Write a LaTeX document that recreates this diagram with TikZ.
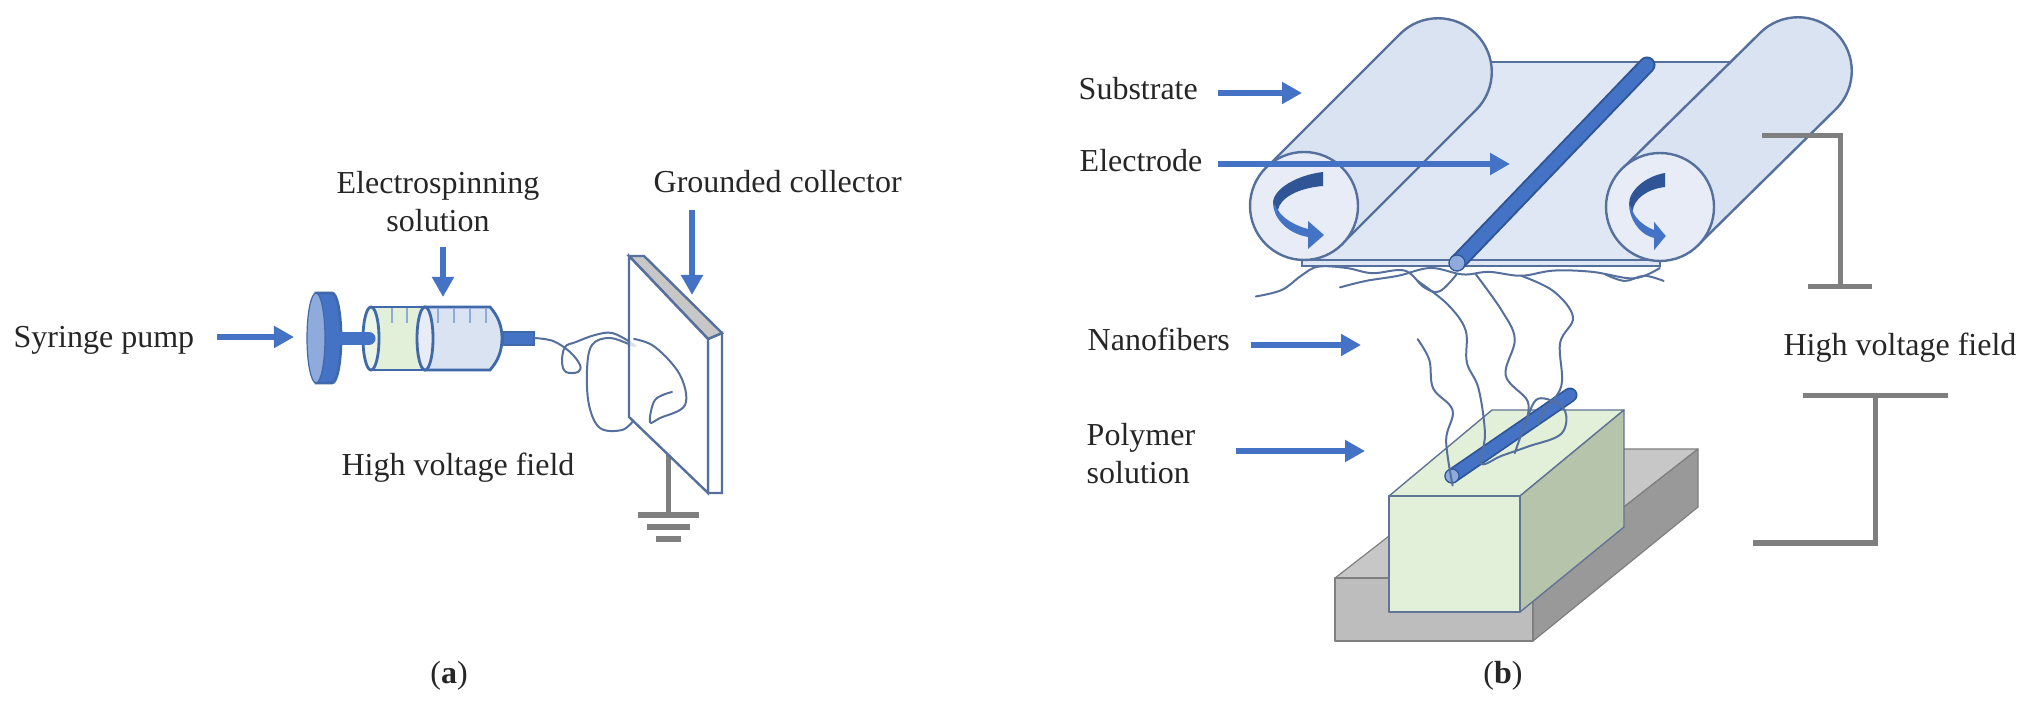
\documentclass[tikz,border=0pt]{standalone}
\usepackage{fontspec}
\setmainfont{Liberation Serif}
\usetikzlibrary{arrows.meta}
\definecolor{callblue}{HTML}{4472C4}
\definecolor{darkblue}{HTML}{2F5597}
\definecolor{edgeblue}{HTML}{3F69A8}
\definecolor{slateline}{HTML}{55709C}
\definecolor{cylfill}{HTML}{D9E3F2}
\definecolor{capfill}{HTML}{E7ECF7}
\definecolor{sheetfill}{HTML}{DFE7F4}
\definecolor{midblue}{HTML}{8FAADC}
\definecolor{greenfill}{HTML}{E2EFD9}
\definecolor{paleGreen}{HTML}{EDF4E8}
\definecolor{greenside}{HTML}{B7C4AC}
\definecolor{wiregrey}{HTML}{7F7F7F}
\tikzset{
 label text/.style={font=\fontsize{9.1}{12.6}\selectfont,text=black!85,inner sep=0pt,align=center},
 callout/.style={draw=callblue,line width=.055cm,-{Triangle[length=.2cm,width=.21cm,fill=callblue]}},
 slate/.style={draw=slateline,line width=.024cm},
 barrel/.style={draw=edgeblue,line width=.028cm},
 fiber/.style={draw=slateline,line width=.02cm,line cap=round,line join=round},
 wire/.style={draw=wiregrey,line width=.05cm,line cap=butt},
 block/.style={draw=wiregrey,line width=.012cm,line join=round},
 greenblock/.style={draw=slateline!70!wiregrey,line width=.014cm,line join=round},
 rodline/.style={line cap=round}
}
\newcommand{\spinarrow}{%
 \fill[callblue] (1273,203) .. controls (1273,216) and (1285,233) .. (1308,237) -- (1308,249) -- (1324,235) -- (1308,221) -- (1308,229) .. controls (1296,226) and (1283,219) .. (1278,210) -- cycle;
 \fill[darkblue] (1323,172) .. controls (1297,175) and (1273,189) .. (1273,203) -- (1278,210) .. controls (1280,198) and (1298,188) .. (1323,186) -- cycle;
}
\begin{document}
\begin{tikzpicture}[x=.01cm,y=-.01cm]
\useasboundingbox (0,0) rectangle (2028,722);
% ---------- panel a
\node[label text,anchor=base west] (syr) at (13,348) {Syringe pump};
\node[label text,anchor=base] (es1) at (438,194) {Electrospinning};
\node[label text,anchor=base] (es2) at (438,232) {solution};
\node[label text,anchor=base west] (gc) at (653,193) {Grounded collector};
\node[label text,anchor=base] (hv1) at (458,476) {High voltage field};
\node[label text,anchor=base] (capa) at (449,683) {(\textbf{a})};
\coordinate (a1s) at (217,337); \coordinate (a1e) at (294,337);
\coordinate (a2s) at (443,247); \coordinate (a2e) at (443,297);
\coordinate (a3s) at (692,210); \coordinate (a3e) at (692,295);
\draw[callout] (a1s) -- (a1e);
\draw[callout] (a2s) -- (a2e);
\draw[callout] (a3s) -- (a3e);
% plunger
\draw[barrel,fill=callblue] (316,293) -- (332,293) .. controls (337,293) and (341,313) .. (341,338) .. controls (341,363) and (337,383) .. (332,383) -- (316,383) -- cycle;
\draw[barrel,fill=midblue,line width=.012cm] (316,338) ellipse [x radius=9,y radius=45];
% barrel
\draw[barrel,fill=cylfill] (425,307) -- (490,307) .. controls (498,316) and (502,326) .. (502,338) .. controls (502,351) and (498,361) .. (490,370) -- (425,370) -- cycle;
\draw[barrel,fill=greenfill] (371,307) -- (425,307) -- (425,370) -- (371,370) -- cycle;
\draw[barrel,fill=paleGreen] (371,338.5) ellipse [x radius=8,y radius=31.5];
\draw[barrel,fill=capfill] (425,338.5) ellipse [x radius=8,y radius=31.5];
\foreach \t in {392,407,438,454,470,486} \draw[draw=midblue,line width=.012cm] (\t,308) -- (\t,323);
\draw[draw=callblue,line width=.13cm,line cap=round] (341,338.5) -- (369,338.5);
\draw[barrel,fill=callblue] (503,332) rectangle (534,345);
% fibre a
\draw[fiber] plot[smooth,tension=.6] coordinates {(534,338) (553,341) (570,352) (580,365) (578,372) (566,372) (562,362) (565,347) (576,342) (595,335) (612,333) (630,342) (634,346) (610,338) (592,345) (587,370) (589,405) (600,428) (622,430) (634,420)};
% plate and ground
\draw[wire] (668,452) -- (668,515);
\draw[wire] (638,515) -- (699,515);
\draw[wire] (647,527) -- (690,527);
\draw[wire] (656,539) -- (681,539);
\draw[slate,fill=white] (708,339) -- (722,333) -- (722,493) -- (708,493) -- cycle;
\draw[slate,fill=black!22] (629,256) -- (644,256) -- (722,333) -- (708,339) -- cycle;
\draw[slate,fill=white,fill opacity=.8] (629,256) -- (708,339) -- (708,493) -- (629,417) -- cycle;
\draw[fiber] plot[smooth,tension=.6] coordinates {(634,339) (655,347) (680,375) (685,405) (660,418) (650,422) (655,400) (672,392)};
% ---------- panel b labels
\node[label text,anchor=base west] (sub) at (1078,100) {Substrate};
\node[label text,anchor=base west] (ele) at (1079,172) {Electrode};
\node[label text,anchor=base west] (nan) at (1087,351) {Nanofibers};
\node[label text,anchor=base west,align=left] (pol) at (1086,446) {Polymer};
\node[label text,anchor=base west,align=left] (pol2) at (1086,484) {solution};
\node[label text,anchor=base] (hv2) at (1900,356) {High voltage field};
\node[label text,anchor=base] (capb) at (1503,683) {(\textbf{b})};
% base block
\draw[block,fill=black!22] (1335,578) -- (1501,449) -- (1698,449) -- (1533,578) -- cycle;
\draw[block,fill=black!40] (1533,578) -- (1698,449) -- (1698,507) -- (1533,641) -- cycle;
\draw[block,fill=black!26] (1335,578) rectangle (1533,641);
% green block
\draw[greenblock,fill=greenfill] (1389,496) -- (1492,410) -- (1624,410) -- (1520,496) -- cycle;
\draw[greenblock,fill=greenside] (1520,496) -- (1624,410) -- (1624,527) -- (1520,612) -- cycle;
\draw[greenblock,fill=greenfill] (1389,496) rectangle (1520,612);
% lower rod
\draw[rodline,draw=darkblue,line width=.15cm] (1452,476) -- (1570,395);
\draw[rodline,draw=callblue,line width=.115cm] (1452,476) -- (1570,395);
\draw[draw=darkblue,fill=midblue,line width=.012cm] (1452,476) circle [radius=7];
% nanofibres, in a scope with the reduced grid
\begin{scope}[x=.01294cm,y=-.01294cm]
\draw[fiber] plot[smooth,tension=.6] coordinates {(970,229) (990,224) (1005,213) (1018,206) (1040,207) (1060,211) (1085,209) (1100,222) (1112,225) (1125,212)};
\draw[fiber] plot[smooth,tension=.6] coordinates {(1035,222) (1055,217) (1080,213) (1105,207) (1130,212) (1150,210) (1175,213) (1200,209) (1230,210) (1262,215) (1282,207)};
\draw[fiber] plot[smooth,tension=.6] coordinates {(1122,375) (1117,340) (1122,317) (1107,300) (1104,278) (1095,262)};
\draw[fiber] plot[smooth,tension=.6] coordinates {(1095,217) (1118,235) (1132,255) (1133,280) (1142,300) (1147,335) (1144,358) (1160,352) (1180,345) (1206,335) (1208,316) (1188,308) (1178,328) (1170,350)};
\draw[fiber] plot[smooth,tension=.6] coordinates {(1140,212) (1160,240) (1170,262) (1163,290) (1180,310) (1178,328)};
\draw[fiber] plot[smooth,tension=.6] coordinates {(1175,213) (1200,225) (1215,245) (1205,265) (1206,298) (1192,318) (1188,328)};
\draw[fiber] plot[smooth,tension=.6] coordinates {(1240,212) (1255,217) (1270,213) (1285,217)};
\end{scope}
% sheet and rollers
\draw[slate,fill=sheetfill] (1302,260) rectangle (1660,266);
\fill[sheetfill] (1307,259) -- (1660,259) -- (1760,62) -- (1480,62) -- cycle;
\draw[slate] (1480,62) -- (1734,62);
\draw[slate,fill=cylfill] (1266,168) -- (1400,34) .. controls (1421,13) and (1455,13) .. (1476,34) .. controls (1497,55) and (1497,89) .. (1476,110) -- (1342,244) -- cycle;
\draw[slate,fill=capfill] (1304,206) circle [radius=54];
\draw[slate,fill=cylfill] (1622,169) -- (1760,33) .. controls (1781,12) and (1815,12) .. (1836,33) .. controls (1857,54) and (1857,88) .. (1836,109) -- (1698,245) -- cycle;
\draw[slate,fill=capfill] (1660,207) circle [radius=54];
\spinarrow
\begin{scope}[shift={(1665,1)},xscale=.72,shift={(-1323,0)}]
\spinarrow
\end{scope}
% upper rod
\draw[rodline,draw=darkblue,line width=.17cm] (1457,263) -- (1647,65);
\draw[rodline,draw=callblue,line width=.13cm] (1457,263) -- (1647,65);
\draw[draw=darkblue,fill=midblue,line width=.012cm] (1457,263) circle [radius=8];
% callouts b
\coordinate (b1s) at (1218,93); \coordinate (b1e) at (1302,93);
\coordinate (b2s) at (1218,164); \coordinate (b2e) at (1510,164);
\coordinate (b3s) at (1251,345); \coordinate (b3e) at (1361,345);
\coordinate (b4s) at (1236,451); \coordinate (b4e) at (1365,451);
\draw[callout] (b1s) -- (b1e);
\draw[callout] (b2s) -- (b2e);
\draw[callout] (b3s) -- (b3e);
\draw[callout] (b4s) -- (b4e);
% voltage symbol
\coordinate (v1) at (1762,136); \coordinate (v2) at (1840,136); \coordinate (v3) at (1840,287);
\coordinate (v4) at (1808,287); \coordinate (v5) at (1872,287);
\coordinate (v6) at (1803,396); \coordinate (v7) at (1948,396);
\coordinate (v8) at (1875,396); \coordinate (v9) at (1875,543); \coordinate (v10) at (1753,543);
\draw[wire,line join=miter] (v1) -- (v2) -- (v3);
\draw[wire] (v4) -- (v5);
\draw[wire] (v6) -- (v7);
\draw[wire,line join=miter] (v8) -- (v9) -- (v10);
\end{tikzpicture}
\end{document}
